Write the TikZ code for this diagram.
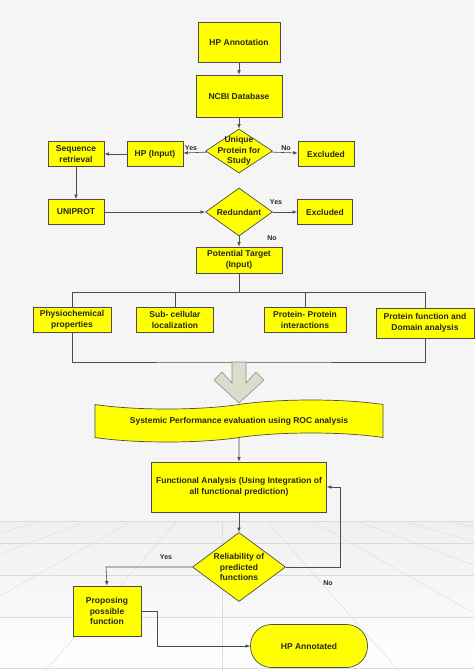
\documentclass[tikz,border=0pt]{standalone}
\usepackage{fontspec}
\setmainfont{Liberation Sans}
\usetikzlibrary{shapes.geometric,shapes.symbols,arrows.meta}
\definecolor{boxyellow}{RGB}{255,255,0}
\definecolor{arrowgrey}{RGB}{218,220,204}
\begin{document}
\begin{tikzpicture}[x=1pt,y=-1pt,
  >={Latex[length=4.5pt,width=3.5pt]},
  every node/.style={font=\fontsize{8.5}{10.5}\selectfont\bfseries,text=black!85,align=center},
  box/.style={rectangle,draw=black!70,fill=boxyellow,line width=0.7pt,inner sep=1pt},
  decision/.style={diamond,draw=black!70,fill=boxyellow,line width=0.7pt,inner sep=0pt},
  flow/.style={draw=black!70,line width=0.6pt},
  answer/.style={font=\fontsize{7}{8}\selectfont\bfseries}]
\useasboundingbox (0,0) rectangle (474,671);
\fill[black!4] (0,0) rectangle (474,671);
\begin{scope}
\clip (0,521) rectangle (474,671);
\shade[top color=black!6,bottom color=white] (0,521) rectangle (474,671);
\foreach \k in {-8,...,8}
  \draw[black!14] (222,470) -- ({222+\k*177},671);
\foreach \y in {521,543,575,617,668}
  \draw[black!14] (0,\y) -- (474,\y);
\end{scope}

\node[box,minimum width=82pt,minimum height=40pt] (hpann) at (239,42) {HP Annotation};
\node[box,minimum width=86pt,minimum height=42pt] (ncbi) at (239,96) {NCBI Database};
\node[decision,minimum width=67pt,minimum height=44pt,
  label={center:Unique\\Protein for\\Study}] (unique) at (239,151) {};
\node[box,minimum width=56pt,minimum height=25pt] (excl1) at (326,154) {Excluded};
\node[box,minimum width=56pt,minimum height=25pt] (hpin) at (155,154) {HP (Input)};
\node[box,minimum width=56pt,minimum height=25pt] (seqret) at (76,154) {Sequence\\retrieval};
\node[box,minimum width=56pt,minimum height=25pt] (uniprot) at (76,212) {UNIPROT};
\node[decision,minimum width=67pt,minimum height=48pt,
  label={center:Redundant}] (redund) at (239,212) {};
\node[box,minimum width=55pt,minimum height=25pt] (excl2) at (325,212) {Excluded};
\node[box,minimum width=86pt,minimum height=26pt] (target) at (239,260) {Potential Target\\(Input)};

\node[box,minimum width=78pt,minimum height=25pt] (physio) at (72,320) {Physiochemical\\properties};
\node[box,minimum width=77pt,minimum height=25pt] (subcell) at (175,320) {Sub- cellular\\localization};
\node[box,minimum width=82pt,minimum height=25pt] (ppi) at (305,320) {Protein- Protein\\interactions};
\node[box,minimum width=98pt,minimum height=30pt] (protfunc) at (425,323) {Protein function and\\Domain analysis};

\node[tape,draw=black!70,fill=boxyellow,line width=0.7pt,minimum width=288pt,
  minimum height=42pt,tape bend height=9pt] (roc) at (239,421)
  {Systemic Performance evaluation using ROC analysis};
\node[box,minimum width=175pt,minimum height=50pt] (funcan) at (239,487)
  {Functional Analysis (Using Integration of\\all functional prediction)};
\node[decision,minimum width=93pt,minimum height=69pt,
  label={center:Reliability of\\predicted\\functions}] (reliab) at (239,567) {};
\node[box,minimum width=68pt,minimum height=50pt] (propose) at (107,611) {Proposing\\possible\\function};
\node[box,rounded corners=21pt,minimum width=117pt,minimum height=43pt] (hpdone) at (309,646) {HP Annotated};

\coordinate (busT) at (239,292);
\coordinate (busB) at (239,362);
\coordinate (yesturn) at (106,567);
\coordinate (noturn) at (340,567);
\coordinate (propturn) at (157,611);

\draw[flow,->] (hpann) -- (ncbi);
\draw[flow,->] (ncbi) -- (unique);
\draw[flow,->] (unique) -- (hpin);
\draw[flow,->] (unique) -- (excl1);
\draw[flow,->] (hpin) -- (seqret);
\draw[flow,->] (seqret) -- (uniprot);
\draw[flow,->] (uniprot) -- (redund);
\draw[flow,->] (redund) -- (excl2);
\draw[flow,->] (redund) -- (target);

\draw[flow] (target.south) -- (busT);
\draw[flow] (physio.north) -- (physio.north |- busT) -- (protfunc.north |- busT) -- (protfunc.north);
\draw[flow] (subcell.north) -- (subcell.north |- busT);
\draw[flow] (ppi.north) -- (ppi.north |- busT);
\draw[flow] (physio.south) |- (busB) -| (protfunc.south);

\draw[draw=black!45,fill=arrowgrey,line width=0.6pt] (232,362) -- (246,362) -- (246,383)
  -- (256,372) -- (264,380) -- (239,403) -- (214,380) -- (222,372) -- (232,383) -- cycle;

\draw[flow,->] (roc) -- (funcan);
\draw[flow,->] (funcan) -- (reliab);
\draw[flow,->] (reliab.west) -- (yesturn) -- (propose.north);
\draw[flow,->] (reliab.east) -- (noturn) |- (funcan.east);
\draw[flow,->] (propose.east) -- (propturn) |- (hpdone.west);

\node[answer] (yes1) at (191,148) {Yes};
\node[answer] (no1) at (286,148) {No};
\node[answer] (yes2) at (276,202) {Yes};
\node[answer] (no2) at (272,238) {No};
\node[answer] (yes3) at (166,557) {Yes};
\node[answer] (no3) at (328,583) {No};
\end{tikzpicture}
\end{document}
